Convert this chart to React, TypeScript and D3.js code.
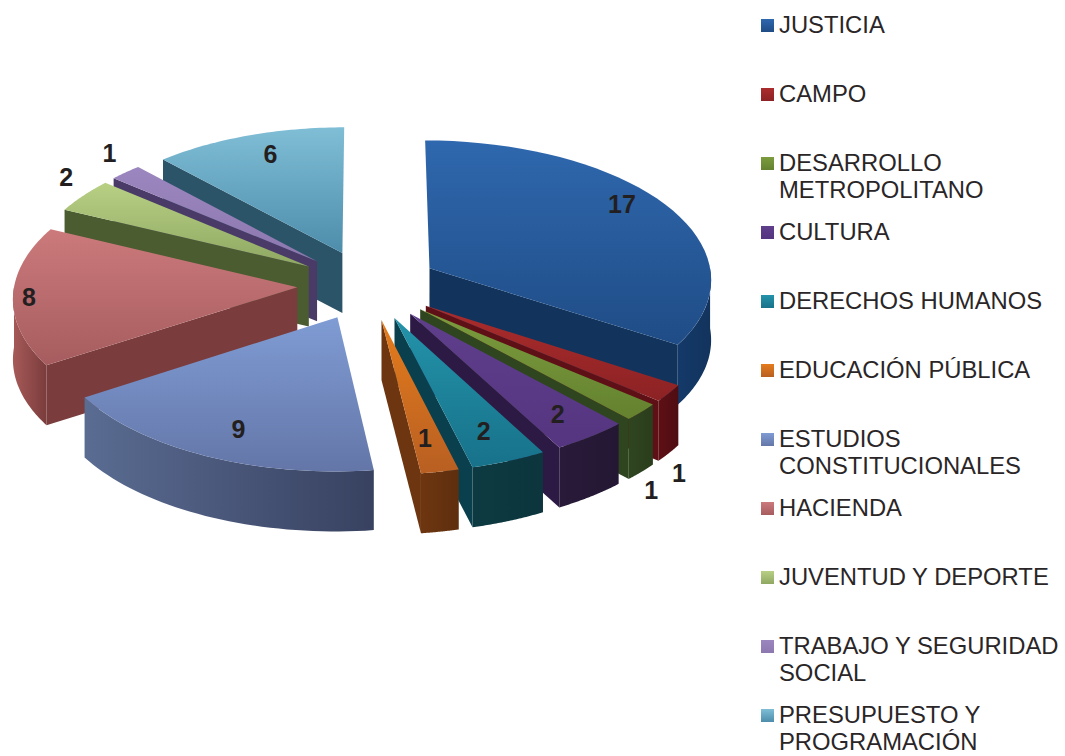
import React from 'react';
import * as d3 from 'd3';

// legend lines, one entry per slice
const categories = [
  ['JUSTICIA'],
  ['CAMPO'],
  ['DESARROLLO', 'METROPOLITANO'],
  ['CULTURA'],
  ['DERECHOS HUMANOS'],
  ['EDUCACIÓN PÚBLICA'],
  ['ESTUDIOS', 'CONSTITUCIONALES'],
  ['HACIENDA'],
  ['JUVENTUD Y DEPORTE'],
  ['TRABAJO Y SEGURIDAD', 'SOCIAL'],
  ['PRESUPUESTO Y', 'PROGRAMACIÓN'],
];
const values = [17, 1, 1, 2, 2, 1, 9, 8, 2, 1, 6];

const topLight = ['#2f68ae', '#ab2c2c', '#7c9c3e', '#5f3f8c', '#2393aa', '#e47c1c', '#7f9cd4', '#cc7a7c', '#b8d084', '#9c86bf', '#80bed6'];
const topDark = ['#1f4c86', '#8c2224', '#64822f', '#553480', '#17728a', '#b85f22', '#6476a8', '#a65c5e', '#8fa862', '#8c78ae', '#4d8dab'];
const sideColor = ['#12345c', '#5e1016', '#2f4520', '#2c1a44', '#0a3f4e', '#6e3610', '#3d4868', '#7a3c3c', '#4a5c30', '#4a3a68', '#2c5468'];
const outerLight = ['#143a6a', '#5e1016', '#2f4520', '#281a38', '#0d3a42', '#6e3610', '#5a6c92', '#a65a58', '#4a5c30', '#4a3a68', '#345f78'];
const outerDark = ['#12335c', '#4e0d12', '#2a3d1c', '#241734', '#0c353d', '#5e2e0e', '#384160', '#7a3c3c', '#4a5c30', '#4a3a68', '#345f78'];

// where each number sits, relative to the middle of its slice's rim
const labelNudge: [number, number][] = [
  [-43, 0], [10, 80], [10, 78], [-33, -23], [-25, -30], [-15, -34], [33, -27], [16, 1], [-17, -19], [-16, -19], [22, 18],
];

const width = 1065;
const height = 756;
const cx = 368;
const cy = 285;
const rx = 283;
const ry = 140;
const persp = 0.07;
const explode = 0.25;
const wall = 60;

// ground plane (unit circle, v towards the viewer) to screen
const project = (u: number, v: number): [number, number] => {
  const f = 1 + persp * v;
  return [cx + rx * u * f, cy + ry * v * f];
};

const line = d3.line<[number, number]>();
const closed = (pts: [number, number][]) => line(pts) + 'Z';
const down = (p: [number, number]): [number, number] => [p[0], p[1] + wall];

const slices = d3.pie<number>().sort(null)(values).map((d, i) => {
  const mid = (d.startAngle + d.endAngle) / 2;
  const u0 = explode * Math.sin(mid);
  const v0 = -explode * Math.cos(mid);
  const rim = (a: number) => project(u0 + Math.sin(a), v0 - Math.cos(a));
  const apex = project(u0, v0);
  const sweep = (a0: number, a1: number) =>
    d3.range(0, 41).map((k) => rim(a0 + ((a1 - a0) * k) / 40));
  const top = closed([apex, ...sweep(d.startAngle, d.endAngle)]);

  // only the walls facing the viewer are drawn
  const a0 = Math.max(d.startAngle, Math.PI / 2);
  const a1 = Math.min(d.endAngle, (3 * Math.PI) / 2);
  let outer: string | null = null;
  if (a1 > a0) {
    const edge = sweep(a0, a1);
    outer = closed([...edge, ...edge.slice().reverse().map(down)]);
  }
  const faces: string[] = [];
  if (d.startAngle >= Math.PI) {
    const r = rim(d.startAngle);
    faces.push(closed([apex, r, down(r), down(apex)]));
  }
  if (d.endAngle <= Math.PI) {
    const r = rim(d.endAngle);
    faces.push(closed([apex, r, down(r), down(apex)]));
  }
  const [mx, my] = rim(mid);
  return {
    i,
    value: d.value,
    depth: -Math.cos(mid),
    top,
    outer,
    faces,
    labelX: mx + labelNudge[i][0],
    labelY: my + labelNudge[i][1],
  };
});

const paintOrder = slices.slice().sort((a, b) => d3.ascending(a.depth, b.depth));

const legendY = d3.scaleLinear().domain([0, 10]).range([25, 715]);

export default function App() {
  return (
    <svg
      width={width}
      height={height}
      viewBox={`0 0 ${width} ${height}`}
      style={{ position: 'absolute', left: 0, top: 0, background: '#fff' }}
      fontFamily="'Liberation Sans', Arial, sans-serif"
    >
      <defs>
        {values.map((_, i) => (
          <React.Fragment key={i}>
            <linearGradient id={`top${i}`} x1="0" y1="0" x2="0" y2="1">
              <stop offset="0" stopColor={topLight[i]} />
              <stop offset="1" stopColor={topDark[i]} />
            </linearGradient>
            <linearGradient id={`outer${i}`} x1="0" y1="0" x2="1" y2="0">
              <stop offset="0" stopColor={outerLight[i]} />
              <stop offset="1" stopColor={outerDark[i]} />
            </linearGradient>
          </React.Fragment>
        ))}
      </defs>

      {paintOrder.map((s) => (
        <g key={s.i}>
          {s.faces.map((f, k) => (
            <path key={k} d={f} fill={sideColor[s.i]} />
          ))}
          {s.outer && <path d={s.outer} fill={`url(#outer${s.i})`} />}
          <path d={s.top} fill={`url(#top${s.i})`} />
        </g>
      ))}

      <g fontSize={25} fontWeight="bold" fill="#231f20" textAnchor="middle">
        {slices.map((s) => (
          <text key={s.i} x={s.labelX} y={s.labelY} dy="0.36em">
            {s.value}
          </text>
        ))}
      </g>

      <g fontSize={23.8} fill="#2a2627">
        {categories.map((lines, i) => (
          <g key={i}>
            <rect x={761} y={legendY(i) - 6} width={13} height={13} fill={`url(#top${i})`} />
            {lines.map((t, k) => (
              <text key={k} x={779} y={legendY(i) + k * 27.5} dy="0.32em">
                {t}
              </text>
            ))}
          </g>
        ))}
      </g>
    </svg>
  );
}
